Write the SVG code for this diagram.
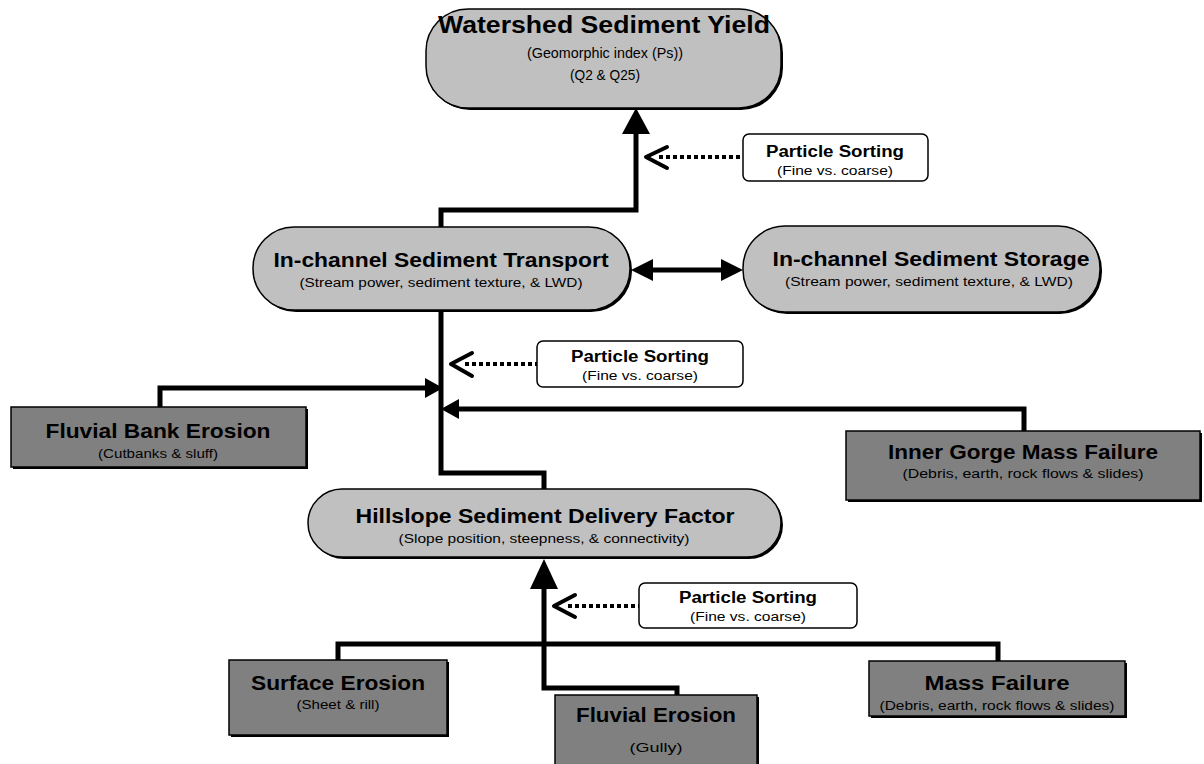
<svg xmlns="http://www.w3.org/2000/svg" width="1204" height="764" viewBox="0 0 1204 764">
<style>
.pill{fill:#c0c0c0;stroke:#000;stroke-width:1.5}
.box{fill:#808080;stroke:#000;stroke-width:1.5}
.shadow{fill:#000}
.ps{fill:#fff;stroke:#000;stroke-width:1.5}
.t{font-family:"Liberation Sans",Arial,sans-serif;font-weight:bold;fill:#000;text-anchor:middle}
.s{font-family:"Liberation Sans",Arial,sans-serif;fill:#000;text-anchor:middle}
.line{fill:none;stroke:#000;stroke-width:5}
.dot{fill:none;stroke:#000;stroke-width:4;stroke-dasharray:4 3}
.chev{fill:none;stroke:#000;stroke-width:4;stroke-linecap:round;stroke-linejoin:round}
.head{fill:#000}
</style>
<rect width="1204" height="764" fill="#fff"/>
<g id="connectors">
  <!-- transport to watershed -->
  <polyline class="line" points="441,228 441,210 636,210 636,130"/>
  <polygon class="head" points="636,108 622,134 650,134"/>
  <!-- double arrow transport/storage -->
  <line class="line" x1="650" y1="270" x2="724" y2="270"/>
  <polygon class="head" points="631,270 653,259 653,281"/>
  <polygon class="head" points="743,270 721,259 721,281"/>
  <!-- trunk from hillslope to transport -->
  <polyline class="line" points="544,489 544,473 441,473 441,310"/>
  <!-- fluvial bank erosion -->
  <polyline class="line" points="160,407 160,388 428,388"/>
  <polygon class="head" points="443,388 425,378 425,398"/>
  <!-- inner gorge -->
  <polyline class="line" points="1024,431 1024,409 456,409"/>
  <polygon class="head" points="441,409 459,399 459,419"/>
  <!-- bottom row to hillslope -->
  <polyline class="line" points="338,660 338,644 998,644 998,661"/>
  <polyline class="line" points="677,695 677,688 544,688 544,585"/>
  <polygon class="head" points="544,559 530,589 558,589"/>
  <!-- particle sorting dotted arrows -->
  <line class="dot" x1="659" y1="157" x2="743" y2="157"/>
  <polyline class="chev" points="667,147 646,157 667,168"/>
  <line class="dot" x1="465" y1="364" x2="537" y2="364"/>
  <polyline class="chev" points="472,353 451,364 472,376"/>
  <line class="dot" x1="568" y1="606" x2="639" y2="606"/>
  <polyline class="chev" points="575,595 554,606 575,617"/>
</g>
<g id="watershed">
  <rect class="shadow" x="428" y="11" width="355" height="99" rx="42"/>
  <rect class="pill" x="426" y="9" width="355" height="99" rx="42"/>
  <text class="t" x="604" y="33" font-size="23" textLength="332" lengthAdjust="spacingAndGlyphs">Watershed Sediment Yield</text>
  <text class="s" x="605" y="58" font-size="14" textLength="156" lengthAdjust="spacingAndGlyphs">(Geomorphic index (Ps))</text>
  <text class="s" x="605" y="80" font-size="14" textLength="70" lengthAdjust="spacingAndGlyphs">(Q2 &amp; Q25)</text>
</g>
<g id="ps1">
  <rect class="ps" x="743" y="134" width="185" height="47" rx="6"/>
  <text class="t" x="835" y="157" font-size="16" textLength="138" lengthAdjust="spacingAndGlyphs">Particle Sorting</text>
  <text class="s" x="835" y="175" font-size="12" textLength="116" lengthAdjust="spacingAndGlyphs">(Fine vs. coarse)</text>
</g>
<g id="transport">
  <rect class="shadow" x="255" y="229" width="377" height="83" rx="41"/>
  <rect class="pill" x="253" y="227" width="377" height="83" rx="41"/>
  <text class="t" x="441" y="267" font-size="20" textLength="335" lengthAdjust="spacingAndGlyphs">In-channel Sediment Transport</text>
  <text class="s" x="441" y="287" font-size="12" textLength="283" lengthAdjust="spacingAndGlyphs">(Stream power, sediment texture, &amp; LWD)</text>
</g>
<g id="storage">
  <rect class="shadow" x="745" y="228" width="357" height="86" rx="42"/>
  <rect class="pill" x="743" y="226" width="357" height="86" rx="42"/>
  <text class="t" x="931" y="266" font-size="20" textLength="317" lengthAdjust="spacingAndGlyphs">In-channel Sediment Storage</text>
  <text class="s" x="929" y="286" font-size="12" textLength="288" lengthAdjust="spacingAndGlyphs">(Stream power, sediment texture, &amp; LWD)</text>
</g>
<g id="ps2">
  <rect class="ps" x="537" y="341" width="206" height="46" rx="6"/>
  <text class="t" x="640" y="362" font-size="16" textLength="138" lengthAdjust="spacingAndGlyphs">Particle Sorting</text>
  <text class="s" x="640" y="380" font-size="12" textLength="116" lengthAdjust="spacingAndGlyphs">(Fine vs. coarse)</text>
</g>
<g id="fluvial-bank">
  <rect class="shadow" x="13" y="409" width="295" height="60"/>
  <rect class="box" x="11" y="407" width="295" height="60"/>
  <text class="t" x="158" y="438" font-size="20" textLength="225" lengthAdjust="spacingAndGlyphs">Fluvial Bank Erosion</text>
  <text class="s" x="158" y="458" font-size="12" textLength="120" lengthAdjust="spacingAndGlyphs">(Cutbanks &amp; sluff)</text>
</g>
<g id="inner-gorge">
  <rect class="shadow" x="848" y="433" width="354" height="69"/>
  <rect class="box" x="846" y="431" width="354" height="69"/>
  <text class="t" x="1023" y="459" font-size="20" textLength="270" lengthAdjust="spacingAndGlyphs">Inner Gorge Mass Failure</text>
  <text class="s" x="1023" y="478" font-size="12" textLength="241" lengthAdjust="spacingAndGlyphs">(Debris, earth, rock flows &amp; slides)</text>
</g>
<g id="hillslope">
  <rect class="shadow" x="310" y="491" width="473" height="68" rx="34"/>
  <rect class="pill" x="308" y="489" width="473" height="68" rx="34"/>
  <text class="t" x="545" y="523" font-size="20" textLength="379" lengthAdjust="spacingAndGlyphs">Hillslope Sediment Delivery Factor</text>
  <text class="s" x="544" y="543" font-size="12" textLength="291" lengthAdjust="spacingAndGlyphs">(Slope position, steepness, &amp; connectivity)</text>
</g>
<g id="ps3">
  <rect class="ps" x="639" y="583" width="218" height="45" rx="6"/>
  <text class="t" x="748" y="603" font-size="16" textLength="138" lengthAdjust="spacingAndGlyphs">Particle Sorting</text>
  <text class="s" x="748" y="621" font-size="12" textLength="116" lengthAdjust="spacingAndGlyphs">(Fine vs. coarse)</text>
</g>
<g id="surface-erosion">
  <rect class="shadow" x="231" y="662" width="218" height="75"/>
  <rect class="box" x="229" y="660" width="218" height="75"/>
  <text class="t" x="338" y="690" font-size="20" textLength="174" lengthAdjust="spacingAndGlyphs">Surface Erosion</text>
  <text class="s" x="338" y="709" font-size="12" textLength="83" lengthAdjust="spacingAndGlyphs">(Sheet &amp; rill)</text>
</g>
<g id="fluvial-erosion">
  <rect class="shadow" x="557" y="697" width="202" height="75"/>
  <rect class="box" x="555" y="695" width="202" height="75"/>
  <text class="t" x="656" y="722" font-size="20" textLength="160" lengthAdjust="spacingAndGlyphs">Fluvial Erosion</text>
  <text class="s" x="656" y="752" font-size="12" textLength="53" lengthAdjust="spacingAndGlyphs">(Gully)</text>
</g>
<g id="mass-failure">
  <rect class="shadow" x="871" y="663" width="256" height="55"/>
  <rect class="box" x="869" y="661" width="256" height="55"/>
  <text class="t" x="997" y="690" font-size="20" textLength="145" lengthAdjust="spacingAndGlyphs">Mass Failure</text>
  <text class="s" x="997" y="710" font-size="12" textLength="235" lengthAdjust="spacingAndGlyphs">(Debris, earth, rock flows &amp; slides)</text>
</g>
</svg>
